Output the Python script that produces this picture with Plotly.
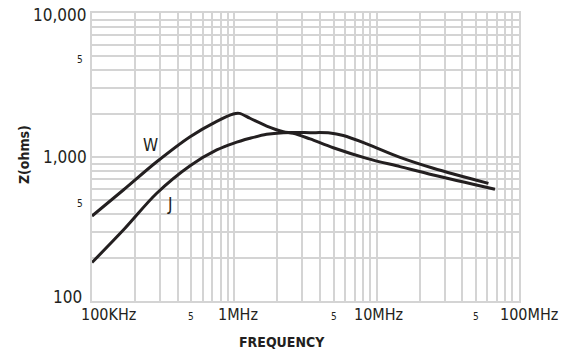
import math
import plotly.graph_objects as go

# Data (frequency in Hz, impedance in ohms)
w_freq = [1.0e5, 1.66e5, 2.85e5, 4.89e5, 7.52e5, 9.84e5, 1.084e6, 1.288e6, 1.687e6,
          2.208e6, 2.594e6, 3.404e6, 4.955e6, 8.51e6, 1.459e7, 2.50e7, 6.78e7]
w_z = [389, 590, 927, 1384, 1770, 1991, 2009, 1858, 1641,
       1500, 1462, 1335, 1160, 979, 857, 750, 597]
j_freq = [1.0e5, 1.66e5, 2.85e5, 4.89e5, 7.52e5, 9.84e5, 1.288e6, 1.687e6, 2.208e6,
          3.404e6, 4.70e6, 5.83e6, 8.51e6, 1.459e7, 2.50e7, 6.10e7]
j_z = [185, 311, 560, 870, 1119, 1245, 1349, 1439, 1476,
       1476, 1469, 1410, 1235, 995, 836, 656]

x_major_vals = [1e5, 1e6, 1e7, 1e8]
x_major_text = ["100KHz", "1MHz", "10MHz", "100MHz"]
x_minor_vals = [5e5, 5e6, 5e7]
y_major_vals = [1e4, 1e3, 1e2]
y_major_text = ["10,000", "1,000", "100"]
y_minor_vals = [5e3, 5e2]

FONT = "DejaVu Sans Condensed, Liberation Sans Narrow, sans-serif"
INK = "#231f20"
GRID = "#d4d4d4"

x_grid = [m * 10 ** e for e in range(5, 8) for m in range(1, 10)] + [1e8]
y_grid = [m * 10 ** e for e in range(2, 4) for m in range(1, 10)] + [1e4]

lg = math.log10

fig = go.Figure()
fig.add_trace(go.Scatter(x=w_freq, y=w_z, mode="lines", name="W",
                         line=dict(color=INK, width=3, shape="spline", smoothing=0.9)))
fig.add_trace(go.Scatter(x=j_freq, y=j_z, mode="lines", name="J",
                         line=dict(color=INK, width=3, shape="spline", smoothing=0.9)))

ann = []
# x tick labels
x_shift = [16, 4, 2, 10]
for v, t, s in zip(x_major_vals, x_major_text, x_shift):
    ann.append(dict(x=lg(v), y=0, xref="x", yref="paper", text=t, showarrow=False,
                    xanchor="center", yanchor="top", xshift=s, yshift=-2,
                    font=dict(family=FONT, size=16, color=INK)))
for v in x_minor_vals:
    ann.append(dict(x=lg(v), y=0, xref="x", yref="paper", text="5", showarrow=False,
                    xanchor="center", yanchor="top", yshift=-8,
                    font=dict(family=FONT, size=10, color=INK)))
# y tick labels
y_shift = [-2, 0, 4]
x_off = [-3, -3, -8]
for v, t, s, o in zip(y_major_vals, y_major_text, y_shift, x_off):
    ann.append(dict(x=0, y=lg(v), xref="paper", yref="y", text=t, showarrow=False,
                    xanchor="right", yanchor="middle", xshift=o, yshift=s,
                    font=dict(family=FONT, size=17, color=INK)))
for v in y_minor_vals:
    ann.append(dict(x=0, y=lg(v), xref="paper", yref="y", text="5", showarrow=False,
                    xanchor="right", yanchor="middle", xshift=-7, yshift=-3,
                    font=dict(family=FONT, size=10, color=INK)))
# series labels
ann.append(dict(x=5.408, y=3.083, xref="x", yref="y", text="W", showarrow=False,
                font=dict(family=FONT, size=17, color=INK)))
ann.append(dict(x=5.548, y=2.674, xref="x", yref="y", text="J", showarrow=False,
                font=dict(family=FONT, size=17, color=INK)))
# axis titles
ann.append(dict(x=0.445, y=-0.142, xref="paper", yref="paper", text="<b>FREQUENCY</b>",
                showarrow=False, xanchor="center", yanchor="middle",
                font=dict(family=FONT, size=14, color=INK)))
ann.append(dict(x=-0.159, y=0.507, xref="paper", yref="paper", text="<b>Z(ohms)</b>",
                showarrow=False, textangle=-90, xanchor="center", yanchor="middle",
                font=dict(family=FONT, size=14, color=INK)))

fig.update_layout(
    width=571, height=356,
    margin=dict(l=92, r=52, t=13, b=55),
    paper_bgcolor="white", plot_bgcolor="white",
    showlegend=False,
    annotations=ann,
    xaxis=dict(type="log", range=[5, 8], tickvals=x_grid, showticklabels=False,
               showgrid=True, gridcolor=GRID, gridwidth=1.6, zeroline=False,
               showline=True, mirror=True, linecolor=GRID, linewidth=1.6, ticks=""),
    yaxis=dict(type="log", range=[2, 4], tickvals=y_grid, showticklabels=False,
               showgrid=True, gridcolor=GRID, gridwidth=1.6, zeroline=False,
               showline=True, mirror=True, linecolor=GRID, linewidth=1.6, ticks=""),
)

fig.write_html("out.html")
